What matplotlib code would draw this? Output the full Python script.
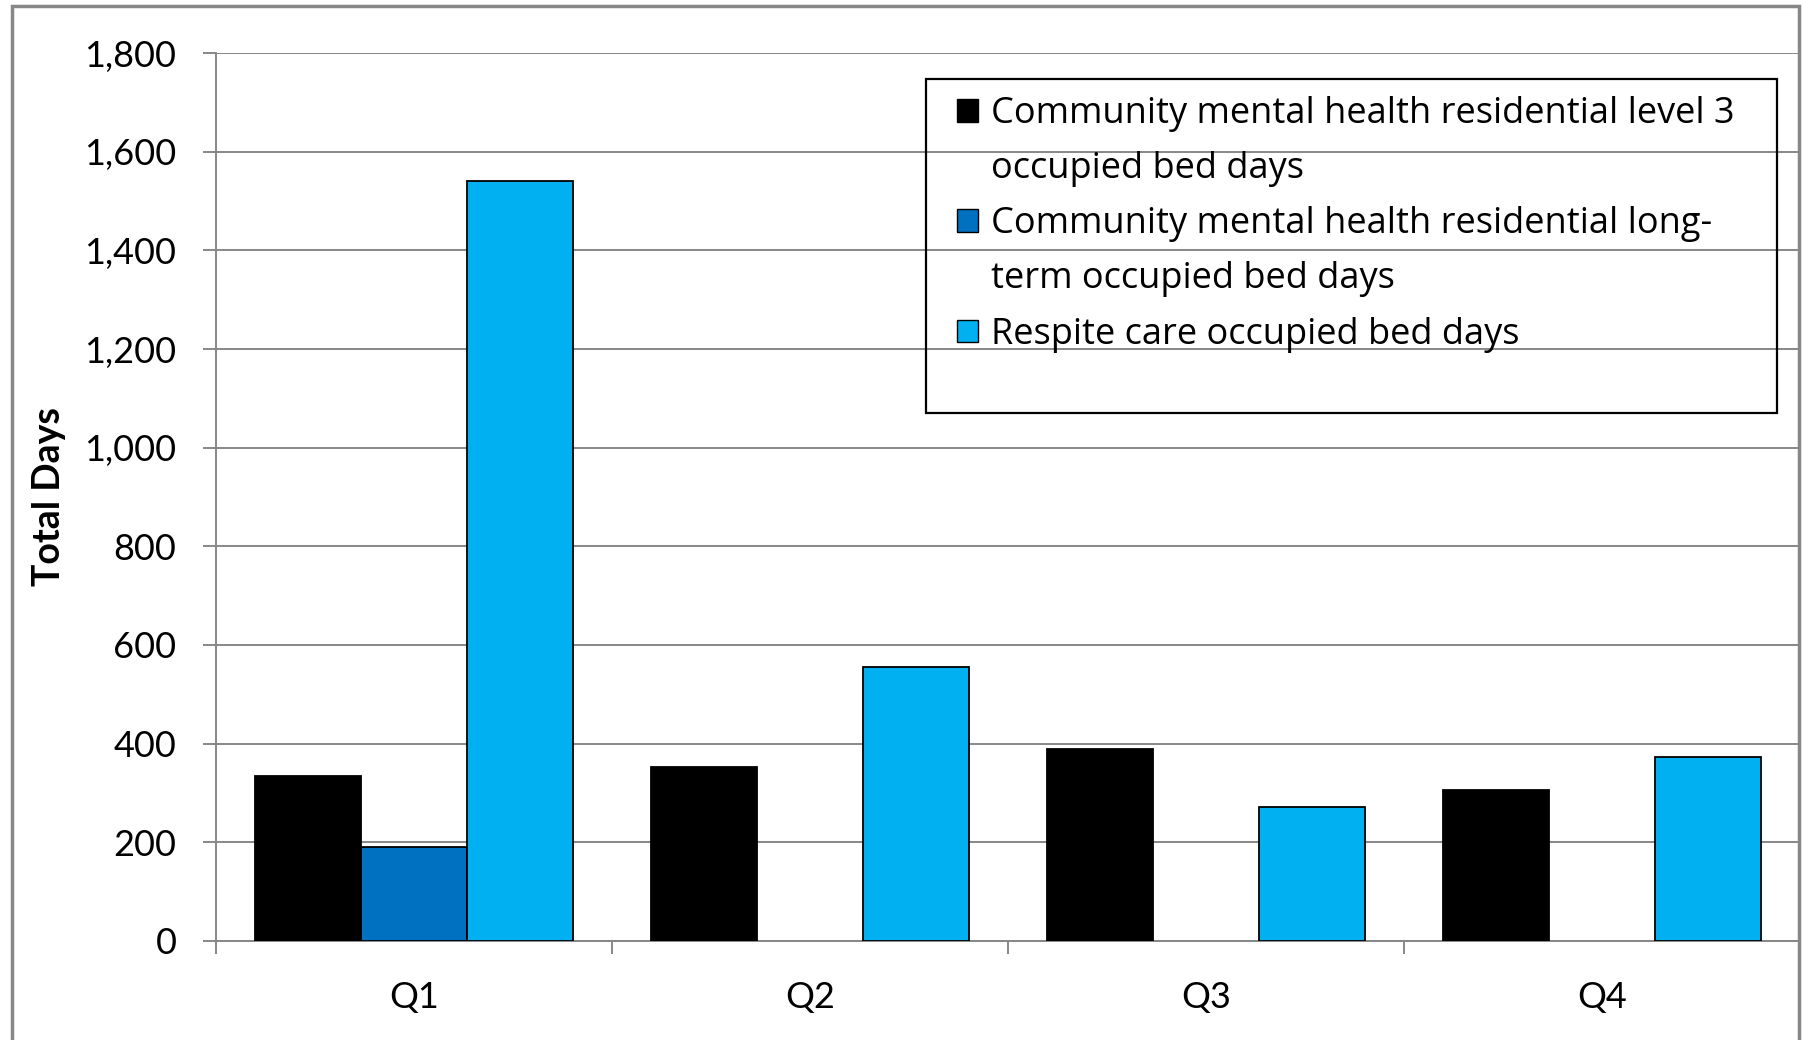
import matplotlib
matplotlib.use("Agg")
import matplotlib.pyplot as plt
import numpy as np
from matplotlib.patches import Rectangle
from matplotlib.ticker import FuncFormatter, FixedLocator

categories = ["Q1", "Q2", "Q3", "Q4"]
series_names = [
    "Community mental health residential level 3 occupied bed days",
    "Community mental health residential long-term occupied bed days",
    "Respite care occupied bed days",
]
legend_lines = [
    ["Community mental health residential level 3", "occupied bed days"],
    ["Community mental health residential long-", "term occupied bed days"],
    ["Respite care occupied bed days"],
]
level3 = [335, 352, 390, 307]
longterm = [190, 0, 0, 0]
respite = [1540, 556, 272, 373]
colors = ["#000000", "#0070C0", "#00B0F0"]
yticks = [0, 200, 400, 600, 800, 1000, 1200, 1400, 1600, 1800]

plt.rcParams["font.family"] = ["Lato", "DejaVu Sans"]

W, H = 1803, 1040
fig = plt.figure(figsize=(W / 100, H / 100), dpi=100)
ax = fig.add_axes([216 / W, 1 - 941 / H, (1800 - 216) / W, (941 - 53) / H])

x = np.arange(len(categories))
bw = 0.267
handles = []
for i, (vals, col, name) in enumerate(zip([level3, longterm, respite], colors, series_names)):
    b = ax.bar(x + (i - 1) * bw, vals, width=bw, color=col, edgecolor="black",
               linewidth=1.3, label=name, zorder=3)
    for p in b.patches:
        if p.get_height() == 0:
            p.set_linewidth(0)
    handles.append(b)

ax.set_xlim(-0.5, 3.5)
ax.set_ylim(0, 1800)
ax.yaxis.set_major_locator(FixedLocator(yticks))
ax.yaxis.set_major_formatter(FuncFormatter(lambda v, p: f"{int(v):,}"))
ax.grid(axis="y", color="#878787", linewidth=1.4, zorder=0)
ax.set_axisbelow(True)

for s in ["top", "right"]:
    ax.spines[s].set_visible(False)
for s in ["left", "bottom"]:
    ax.spines[s].set_color("#878787")
    ax.spines[s].set_linewidth(1.4)

ax.tick_params(axis="y", direction="out", length=9.5, width=1.4, color="#878787",
               labelsize=26, pad=19, labelcolor="black")
ax.set_xticks(x)
ax.set_xticklabels(categories)
ax.set_xticks(np.arange(-0.5, 4.0, 1.0), minor=True)
ax.tick_params(axis="x", which="major", length=0, labelsize=26, pad=29)
ax.tick_params(axis="x", which="minor", direction="out", length=9, width=1.4,
               color="#878787")

ax.set_ylabel("Total Days", fontsize=27, fontweight="bold")
ax.yaxis.set_label_coords(-0.095, 0.5)

# legend: one row per text line, swatch on the first line of each entry
leg_handles, leg_labels = [], []
for col, lines in zip(colors, legend_lines):
    for j, line in enumerate(lines):
        if j == 0:
            leg_handles.append(Rectangle((0, 0), 1, 1, facecolor=col, edgecolor="black", linewidth=1.0))
        else:
            leg_handles.append(Rectangle((0, 0), 1, 1, facecolor="none", edgecolor="none"))
        leg_labels.append(line)

leg = fig.legend(handles=leg_handles, labels=leg_labels, loc="upper left",
                 bbox_to_anchor=(939 / W, 1 - 78 / H), frameon=False,
                 prop={"family": ["Open Sans", "DejaVu Sans"], "size": 26},
                 handlelength=0.58, handleheight=0.58, borderpad=0,
                 handletextpad=0.36, labelspacing=0.53)

# legend frame
fig.patches.append(Rectangle((926 / W, 1 - 413 / H), (1777 - 926) / W, (413 - 79) / H,
                             transform=fig.transFigure, fill=False,
                             edgecolor="black", linewidth=1.6, zorder=5))
# outer chart border
fig.patches.append(Rectangle((12 / W, -0.01), (1799 - 12) / W, 1 - 6 / H + 0.01,
                             transform=fig.transFigure, fill=False,
                             edgecolor="#878787", linewidth=2.5, zorder=5))

fig.savefig("out.png", dpi=100)
